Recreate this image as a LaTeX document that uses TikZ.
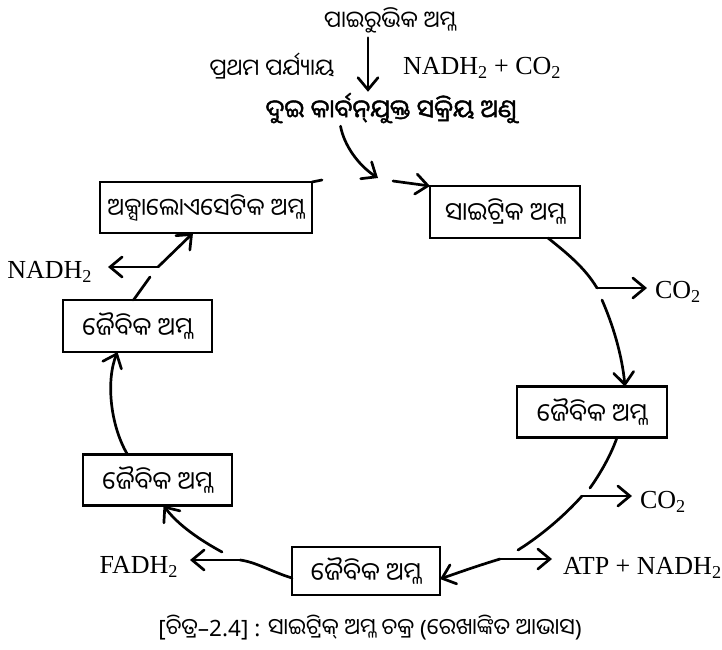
\documentclass[tikz,border=0pt]{standalone}
\usepackage{fontspec}
\setmainfont{Liberation Serif}
\newfontfamily\odia[Script=Oriya]{Noto Sans Oriya UI}
\newfontfamily\odiabold[Script=Oriya,FakeBold=1.6]{Noto Sans Oriya UI}
\newfontfamily\capsans{Noto Sans}
\usetikzlibrary{arrows.meta}

\begin{document}
\begin{tikzpicture}[x=1pt,y=-1pt,
  every node/.style={inner sep=0pt, outer sep=0pt},
  acid/.style={draw, line width=2.7pt, minimum width=#1, minimum height=51pt,
    font=\odia\fontsize{25}{28}\selectfont},
  acid/.default=150pt,
  chem/.style={font=\fontsize{26}{29}\selectfont},
  odiatxt/.style={font=\odia\fontsize{23}{26}\selectfont},
  flow/.style={line width=2.7pt, line cap=round, line join=round},
  tip/.style={flow, -{Straight Barb[length=12pt,width=20pt,line cap=round]}},
]
\path[fill=white, use as bounding box] (0,0) rectangle (722,649);

% entry from pyruvic acid
\node[odiatxt] (pyr) at (390,20) {ପାଇରୁଭିକ ଅମ୍ଳ};
\node[odiatxt] (stage) at (272,66) {ପ୍ରଥମ ପର୍ଯ୍ୟାୟ};
\node[chem, anchor=west] (nco) at (403,68) {NADH\textsubscript{2} + CO\textsubscript{2}};
\node[font=\odiabold\fontsize{25}{28}\selectfont] (acetyl) at (391,108)
  {ଦୁଇ କାର୍ବନ୍\kern0ptଯୁକ୍ତ ସକ୍ରିୟ ଅଣୁ};

% acids of the cycle
\node[acid, minimum height=52pt] (cit) at (505,212) {ସାଇଟ୍ରିକ ଅମ୍ଳ};
\node[acid] (org1) at (592,412) {ଜୈବିକ ଅମ୍ଳ};
\node[acid=148pt, minimum height=48pt] (org2) at (366,571) {ଜୈବିକ ଅମ୍ଳ};
\node[acid=149pt] (org3) at (157.5,480) {ଜୈବିକ ଅମ୍ଳ};
\node[acid=149pt, minimum height=52pt] (org4) at (137.5,326) {ଜୈବିକ ଅମ୍ଳ};
\node[acid=212pt, font=\odia\fontsize{24}{27}\selectfont] (oxa) at (206,207.5) {ଅକ୍ସାଲୋଏସେଟିକ ଅମ୍ଳ};

% by-products
\node[chem, anchor=west] (co2a) at (655,292) {CO\textsubscript{2}};
\node[chem, anchor=west] (co2b) at (640,502) {CO\textsubscript{2}};
\node[chem, anchor=west] (atp) at (563,568) {ATP + NADH\textsubscript{2}};
\node[chem, anchor=east] (fadh) at (178,567) {FADH\textsubscript{2}};
\node[chem, anchor=east] (nadh) at (92,272) {NADH\textsubscript{2}};

% caption
\node[font=\odia\fontsize{22.5}{26}\selectfont] (cap) at (370,628)
  {{\capsans [}ଚିତ୍ର{\capsans –2.4] : }ସାଇଟ୍ରିକ୍ ଅମ୍ଳ ଚକ୍ର {\capsans (}ରେଖାଙ୍କିତ ଆଭାସ{\capsans )}};

% branch points on the cycle
\coordinate (j) at (393,181);
\coordinate (jin) at (378,178);
\coordinate (b1) at (597,288);
\coordinate (b1r) at (602,300);
\coordinate (b2a) at (590,488);
\coordinate (b2) at (582,496);
\coordinate (b3a) at (518,550);
\coordinate (b3) at (500,559);
\coordinate (b4) at (240,560);
\coordinate (b5) at (222,552);
\coordinate (b6) at (150,277);
\coordinate (b7) at (158,267);

% entry arrows
\draw[tip, shorten <=5pt, shorten >=1pt] ([xshift=-22pt]pyr.south) -- ([xshift=-22pt]pyr.south |- acetyl.north);
\draw[tip, shorten <=3pt] ([xshift=-51pt]acetyl.south) .. controls (344,145) and (358,165) .. (jin);
\draw[tip] (j) -- (cit.north west);
\draw[flow] (oxa.north east) -- ++(10,-2);

% right half of the cycle
\draw[flow] ([xshift=43pt]cit.south) .. controls (568,254) and (585,268) .. (b1);
\draw[tip, shorten >=8pt] (b1) -- (b1 -| co2a.west);
\draw[tip] (b1r) .. controls (613,325) and (622,355) .. ([xshift=33pt]org1.north);
\draw[flow] ([xshift=25pt]org1.south) .. controls (611,455) and (600,474) .. (b2a);
\draw[tip, shorten >=8pt] (b2) -- (b2 -| co2b.west);
\draw[flow] (b2) .. controls (565,515) and (542,535) .. (b3a);
\draw[tip, shorten >=11pt] (b3) -- (b3 -| atp.west);
\draw[tip] (b3) .. controls (480,565) and (460,572) .. ([yshift=-8pt]org2.east);

% left half of the cycle
\draw[flow] ([yshift=-7pt]org2.west) .. controls (272,572) and (256,562) .. (b4);
\draw[tip, shorten >=12pt] (b4) -- (b4 -| fadh.east);
\draw[tip] (b5) .. controls (200,540) and (178,525) .. ([xshift=6pt]org3.south);
\draw[tip] ([xshift=-30pt]org3.north) .. controls (110,425) and (106,380) .. ([xshift=-20pt]org4.south);
\draw[flow] ([xshift=-4pt]org4.north) -- (b6);
\draw[tip, shorten >=16pt] (b7) -- (b7 -| nadh.east);
\draw[tip] (b7) -- ([xshift=-13pt]oxa.south);
\end{tikzpicture}
\end{document}
